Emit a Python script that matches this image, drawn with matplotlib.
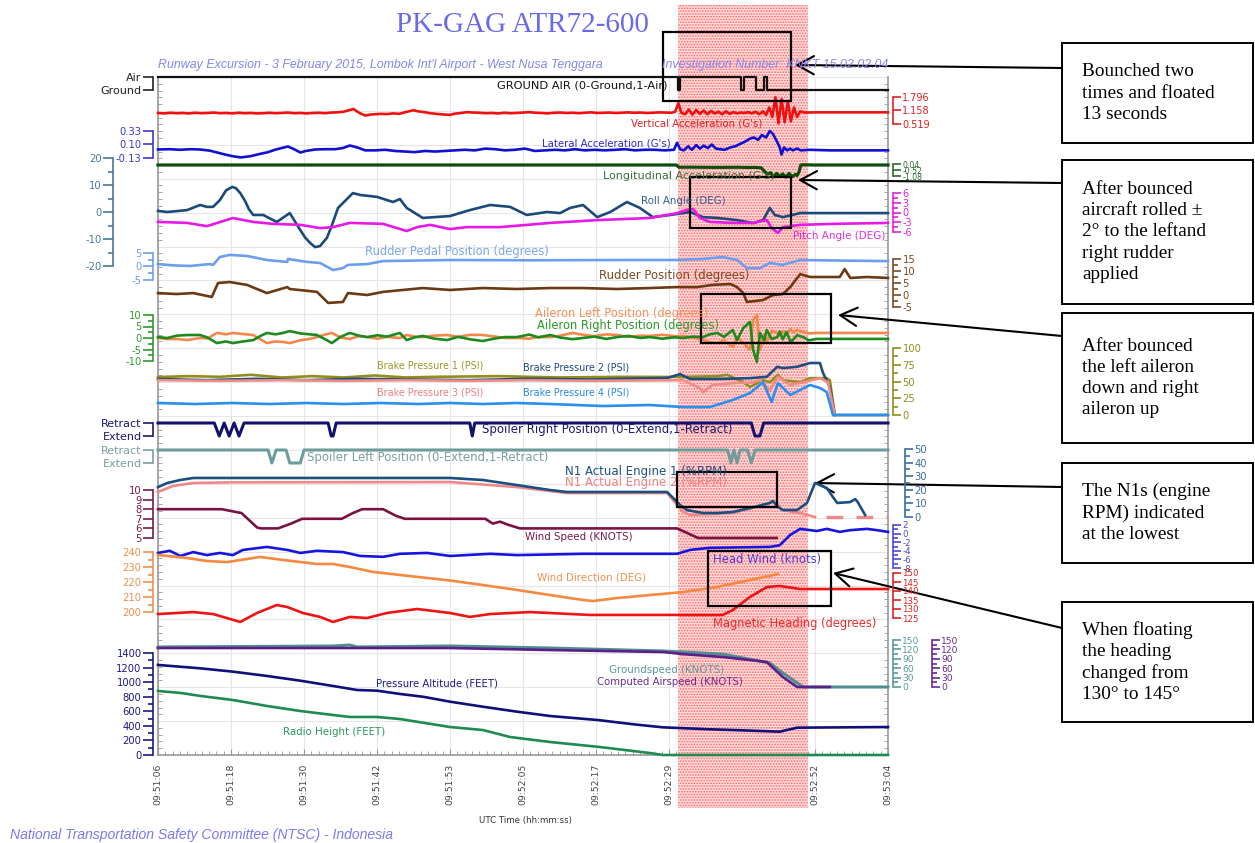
import matplotlib
matplotlib.use("Agg")
import matplotlib.pyplot as plt
from matplotlib.patches import Rectangle

# time axis: seconds after 09:51:06 UTC
time_ticks = [0, 11.8, 23.6, 35.4, 47.2, 59.0, 70.8, 82.6, 94.4, 106.2, 118.0]
time_labels = ["09:51:06", "09:51:18", "09:51:30", "09:51:42", "09:51:53", "09:52:05",
               "09:52:17", "09:52:29", "09:52:41", "09:52:52", "09:53:04"]
highlight = [84.0, 105.1]

# ground / air switch (1 = air)
ga_t = [0, 84.0, 84.4, 94.3, 94.8, 96.7, 98.0, 98.4, 118]
ga_v = [1, 0, 1, 0, 1, 0, 1, 0, 0]

# vertical acceleration (G)
vacc_t = [0, 1, 2, 3, 4, 5, 6, 7, 8, 9, 10, 11, 12, 13, 14, 15, 16, 17, 18, 19,
          20, 21, 22, 23, 24, 25, 26, 27, 28, 29, 30, 31, 31.6, 32.5, 33.5, 34.5, 36, 37, 38, 39,
          40, 41.3, 42, 43, 44, 45, 46, 47.2, 48, 49, 50, 51, 52, 53, 54, 55, 56, 57, 58, 59,
          60, 61, 62, 63, 64, 65, 66, 67, 68, 69, 70, 71, 72, 73, 74, 75, 76, 77, 78, 79,
          80, 81, 82, 83, 83.6, 84.1, 84.6, 85.2, 85.8, 86.4, 87, 87.6, 88.2, 88.8, 89.4, 90, 90.6, 91.2, 91.8, 92.4,
          93, 93.6, 94.2, 94.8, 95.4, 96, 96.6, 97.2, 97.8, 98.3, 98.8, 99.3, 99.8, 100.3, 100.8, 101.3, 101.8, 102.3, 102.8, 103.3,
          103.8, 104.5, 106, 108, 110, 112, 114, 116, 118]
vacc_v = [1.04, 1.02, 1.05, 1.03, 1.04, 1.02, 1.05, 1.03, 1.04, 1.06, 1.03, 1.04, 1.02, 1.05, 1.03, 1.04, 1.02, 1.03, 1.05, 1.03,
          1.04, 1.06, 1.03, 1.04, 1.02, 1.04, 1.05, 1.03, 1.06, 1.07, 1.10, 1.18, 1.23, 1.05, 0.92, 0.97, 1.00, 0.99, 1.02, 1.00,
          1.08, 1.17, 1.12, 1.08, 1.03, 1.00, 0.97, 0.95, 1.01, 1.04, 1.08, 1.06, 1.05, 1.03, 1.04, 1.02, 1.05, 1.03, 1.04, 1.06,
          1.08, 1.05, 1.04, 1.02, 1.05, 1.06, 1.04, 1.05, 1.03, 1.05, 1.07, 1.04, 1.05, 1.06, 1.04, 1.05, 1.07, 1.05, 1.06, 1.04,
          1.05, 1.07, 1.06, 1.05, 1.10, 1.50, 1.05, 0.98, 1.20, 0.96, 1.18, 1.00, 1.16, 0.98, 1.14, 1.02, 1.10, 0.98, 1.12, 1.00,
          1.08, 1.02, 1.06, 1.04, 1.08, 1.02, 1.10, 0.98, 1.12, 0.95, 1.30, 0.85, 1.78, 0.55, 1.70, 0.60, 1.60, 0.65, 1.30, 0.85,
          1.12, 1.06, 1.07, 1.07, 1.07, 1.07, 1.07, 1.07, 1.07]

# lateral acceleration (G)
lat_t = [0, 1.9, 3.6, 5.2, 6.8, 8.4, 9.7, 10.8, 12.1, 13.4, 14.9, 16.5, 17.8, 18.9, 20.0, 21.0, 22.0, 23.0, 23.9, 25.4,
         27.0, 28.6, 29.9, 31.0, 32.2, 33.5, 35.1, 36.7, 38.3, 39.9, 41.5, 43.2, 44.8, 46.4, 48.0, 49.6, 51.2, 52.9, 54.5, 56.1,
         57.7, 59.3, 60.9, 62.6, 64.2, 65.8, 67.4, 69.0, 70.6, 72.2, 73.9, 75.5, 77.1, 78.7, 80.3, 81.9, 83.4, 83.9, 84.4, 85.0,
         85.7, 86.3, 87.0, 87.6, 88.2, 88.9, 89.5, 90.2, 90.8, 91.6, 92.5, 93.3, 94.1, 94.9, 95.7, 96.3, 97.0, 97.6, 98.3, 98.9,
         99.4, 100.0, 100.5, 100.8, 101.2, 101.7, 102.2, 102.6, 103.3, 103.9, 105.4, 108.6, 111.9, 115.1, 118]
lat_v = [0.015, 0.02, 0.01, 0.02, 0.015, -0.005, -0.04, -0.07, -0.10, -0.12, -0.10, -0.06, -0.03, 0.01, 0.04, 0.066, 0.02, -0.036, -0.01, 0.015,
         0.02, 0.02, 0.04, 0.083, 0.05, 0.0, 0.0, 0.01, -0.01, -0.02, -0.03, -0.01, -0.02, -0.01, 0.0, 0.01, 0.0, 0.03, 0.02, 0.0,
         0.01, 0.03, -0.01, 0.0, 0.01, 0.0, 0.02, 0.0, 0.01, 0.0, 0.01, 0.02, 0.0, 0.01, 0.01, 0.0, 0.01, 0.13, 0.02, 0.0,
         0.07, 0.01, 0.09, 0.03, 0.08, 0.04, 0.10, 0.03, 0.02, 0.01, 0.05, 0.07, 0.11, 0.15, 0.20, 0.22, 0.18, 0.26, 0.22, 0.33,
         0.28, 0.16, 0.05, -0.07, 0.05, 0.0, 0.03, 0.0, 0.03, 0.0, 0.01, 0.0, 0.0, 0.0, 0.0]

# longitudinal acceleration (G)
lon_t = [0, 20, 40, 60, 83.8, 84.2, 86, 90, 94, 95.5, 96.5, 97.5, 98.0, 98.5, 99.0, 99.5, 100, 100.5, 101, 101.5,
         102, 102.5, 103, 103.3, 103.6, 103.9, 104.5, 106, 118]
lon_v = [-0.05, -0.05, -0.05, -0.05, -0.05, -0.25, -0.24, -0.26, -0.25, -0.27, -0.26, -0.30, -0.60, -0.85, -0.75, -1.10, -0.80, -1.05, -0.85, -1.15,
         -0.80, -1.10, -0.90, -1.00, -0.70, -0.05, -0.03, -0.05, -0.05]

# roll angle (deg)
roll_t = [0, 1.5, 4.7, 6.8, 7.9, 8.9, 10.0, 11.0, 12.0, 12.6, 13.3, 14.1, 14.7, 15.4, 17.0, 19.2, 21.3, 23.0, 23.8, 24.6,
          25.4, 26.2, 27.3, 28.1, 29.1, 31.5, 32.7, 35.4, 38.0, 39.1, 40.2, 42.8, 47.2, 50.4, 53.7, 56.9, 59.6, 62.9, 65.0, 66.6,
          68.7, 71.0, 73.1, 75.8, 77.9, 80.0, 82.8, 86.0, 88.1, 90.4, 93.6, 96.2, 97.8, 98.9, 99.7, 101.0, 103.8, 106.5, 111.9, 118]
roll_v = [0.4, 0.0, 0.7, 2.6, 1.9, 1.9, 4.4, 8.0, 9.3, 8.8, 7.0, 4.0, 1.0, -1.1, -1.1, -3.7, -0.4, -6.7, -9.5, -11.5,
          -13.0, -12.6, -9.6, -5.0, 1.5, 7.0, 6.3, 5.6, 3.7, 4.8, 1.5, -2.2, -1.5, 0.7, 2.6, 1.9, -1.1, 0.0, -0.4, 1.5,
          2.6, -1.9, 0.0, 3.7, 1.5, -1.9, -1.1, 0.0, -1.9, -2.2, -3.0, -4.1, -3.0, 1.5, -1.1, -1.9, -0.4, -0.4, -0.4, -0.4]

# pitch angle (deg)
pitch_t = [0, 4.7, 7.9, 12.1, 15.4, 18.6, 23.0, 26.2, 28.3, 31.0, 36.4, 40.2, 41.9, 44.0, 47.2, 49.9, 55.3, 63.4, 71.4, 79.5,
           83.9, 85.5, 86.5, 87.6, 89.2, 92.9, 96.2, 98.4, 99.2, 100.2, 101.0, 103.8, 109.1, 118]
pitch_v = [-2.9, -3.2, -4.2, -1.7, -2.9, -3.5, -3.8, -4.8, -4.5, -3.2, -3.5, -5.7, -4.5, -3.8, -5.1, -4.5, -4.5, -3.2, -2.3, -1.7,
           -0.2, 0.8, 1.1, -1.7, -2.9, -3.2, -3.2, -2.3, -4.8, -6.3, -4.5, -3.8, -3.5, -3.2]

# rudder pedal position (deg)
pedal_t = [0, 2.5, 5.2, 8.4, 8.9, 10.0, 11.6, 14.4, 17.6, 20.9, 21.0, 24.1, 26.2, 28.3, 29.9, 30.7, 33.8, 36.4, 47.2, 60,
           75, 83.9, 88.1, 91.3, 93.6, 95.2, 97.3, 98.9, 101.0, 103.8, 110, 118]
pedal_v = [0.9, 0.4, 0.2, 0.9, 0.6, 3.5, 4.3, 3.9, 2.4, 1.7, 2.8, 1.7, 1.3, -1.3, -0.6, 0.6, 0.9, 2.0, 2.4, 2.3,
           2.4, 2.4, 2.8, 3.5, 2.4, -0.6, -0.6, 1.3, 0.6, 2.4, 2.2, 2.0]

# rudder position (deg)
rud_t = [0, 3, 5.7, 8.7, 9.7, 11.6, 14.4, 17.6, 20.9, 21.3, 25.7, 27.5, 29.9, 30.7, 33.8, 36.4, 42.8, 47.2, 52.5, 58.0,
         63.4, 68.7, 74.2, 79.5, 83.9, 87.1, 89.7, 92.5, 93.6, 94.6, 95.2, 96.5, 97.8, 99.4, 101.0, 102.2, 103.8, 105.4, 109.1, 110.2,
         111.0, 111.9, 114.6, 118]
rud_v = [0.8, 0.4, 0.8, -0.8, 5.0, 5.4, 4.2, 0.8, 3.3, 2.5, 1.3, -3.3, -2.9, 0.8, 0.0, 1.3, 2.9, 2.1, 2.9, 2.5,
         2.9, 2.9, 2.5, 2.9, 3.3, 3.3, 4.2, 4.6, 3.3, 0.8, -2.9, -2.5, -2.1, 0.0, 0.4, 3.3, 8.7, 7.5, 7.5, 7.5,
         10.8, 7.1, 7.5, 7.1]

# aileron positions (deg)
ail_t = [0, 1.5, 3, 4.7, 6.8, 8, 9.5, 11, 12.1, 13.5, 15.4, 16.5, 17.6, 19, 20.2, 21.3, 23, 24.5, 25.7, 27,
         28.1, 29.5, 31.0, 32.5, 33.8, 35.5, 37, 39.1, 40.2, 41.5, 42.8, 44.5, 46.7, 48.5, 50.5, 52.5, 54.5, 56, 58.0, 60,
         61.5, 63.4, 65, 67, 68.7, 70.5, 72.5, 74.2, 76, 78, 79.5, 81.5, 83.5, 84.9, 86.5, 88.1, 89.2, 90.4, 91.5, 92.9,
         93.6, 94.6, 95.7, 96.2, 96.8, 97.3, 98.0, 98.4, 99.2, 100.1, 100.5, 101.0, 101.6, 102.2, 102.6, 103.3, 104.3, 105.2, 106.5, 108,
         110, 112, 114, 116, 118]
ail_right = [0.4, 0.0, 1.0, 1.3, 1.3, 0.2, -2.2, -1.5, -2.2, -1.6, -0.9, 0.8, 2.2, 1.6, 2.2, 3.0, 2.0, 1.6, 1.3, -0.5,
             -2.2, 0.5, 2.2, 1.0, 0.4, 1.2, 0.6, 2.2, -0.9, 0.3, 0.9, -0.2, -0.9, 0.5, -0.6, -1.3, -0.2, 0.4, 0.4, 1.5,
             0.3, 1.3, 0.2, -0.5, 0.0, 0.6, -0.4, 0.4, 0.9, 0.0, 0.4, -0.3, 0.3, 0.0, 0.6, 0.4, 1.6, 2.2, 0.5, 3.5,
             -0.9, 4.3, 7.0, -5.2, -10.4, 2.2, -1.0, 3.5, -0.5, 0.4, 2.8, -0.6, 2.6, -1.5, -0.9, 1.2, 0.4, -1.0, -0.4, -0.4,
             -0.4, -0.4, -0.4, -0.4, -0.4]
ail_left = [0.0, -0.5, -0.4, -0.9, 0.0, -0.2, 2.2, 1.6, 2.2, 1.8, 1.3, -0.5, -2.2, -1.5, -1.7, -2.2, -1.0, -0.4, 0.4, 1.5,
            2.2, 0.2, -0.4, 0.8, 0.4, -0.3, 0.5, 0.0, 1.3, 0.6, 0.4, 1.0, 1.3, 0.5, 1.4, 1.3, 0.6, 0.0, 0.0, -0.3,
            0.4, 0.4, 1.0, 2.2, 1.4, 0.8, 1.6, 1.3, 0.5, 1.0, 0.9, 1.4, 0.8, 0.9, 0.2, -0.9, -1.8, -2.2, -1.0, -3.9,
            0.4, -2.0, -5.2, 7.8, 10.0, -5.2, 1.5, -1.7, 3.2, 2.2, 0.8, 3.0, 1.5, 3.8, 2.5, 3.5, 2.6, 2.0, 2.2, 2.2,
            2.2, 2.2, 2.2, 2.2, 2.2]

# brake pressures (PSI)
bp1_t = [0, 5, 10, 15, 20, 25, 30, 35, 40, 45, 55, 65, 75, 84.9, 90.4, 92.0, 94.6, 95.7, 97.8, 98.9,
         100.2, 101.0, 103.8, 105.4, 108.1, 108.6, 109.4, 118]
bp1_v = [56.7, 58, 57, 60, 56, 58, 56, 59, 56, 57, 58, 56, 57, 56.7, 58, 60, 49, 42, 52, 49,
         60, 52, 49, 55, 55, 52, 0, 0]
bp2_t = [0, 8, 16, 24, 32, 40, 50, 60, 70, 82.3, 84.4, 86.0, 90.4, 95.7, 98.4, 100.1, 101.0, 103.3, 105.4, 107.0,
         107.5, 108.6, 109.4]
bp2_v = [53.7, 52, 54, 52, 54, 53, 52, 54, 53, 55.2, 61, 53.7, 53.7, 55, 57, 72, 70, 72, 77.6, 77.6,
         62.7, 41.8, 0]
bp3_t = [0, 10, 20, 30, 40, 50, 60, 70, 84.9, 87.6, 88.1, 89.7, 93.6, 95.7, 97.3, 98.9, 100.2, 102.2, 104.3, 107.0,
         108.3, 109.4]
bp3_v = [52, 51, 52, 51, 52, 51, 52, 51, 52, 40, 34, 45, 48, 48, 52, 37, 57, 45, 49, 55,
         49, 0]
bp4_t = [0, 6, 12, 18, 24, 30, 36, 42, 47.2, 52.5, 58.0, 63.4, 71.9, 79.5, 84.9, 89.2, 92.9, 95.7, 97.8, 99.2,
         100.2, 102.2, 105.4, 107.0, 108.1, 109.1, 118]
bp4_v = [17.9, 16.4, 17.9, 16.4, 17.9, 16.4, 17.9, 16.4, 17.9, 16.4, 17.9, 16.4, 13.4, 14.9, 11.9, 11.9, 22.4, 32.8, 49, 19.4,
         47.8, 29.9, 44.8, 40.3, 34.3, 0, 0]

# spoilers (1 = retract, 0 = extend)
spr_t = [0, 9.1, 9.9, 10.7, 11.5, 12.3, 13.1, 13.9, 27.5, 28.0, 28.3, 28.8, 50.4, 50.8, 51.2, 95.9, 96.5, 97.3, 97.9, 118]
spr_v = [1, 1, 0, 1, 0, 1, 0, 1, 1, 0, 0, 1, 1, 0, 1, 1, 0, 0, 1, 1]
spl_t = [0, 17.8, 18.4, 19.1, 20.7, 21.3, 23.0, 23.6, 92.1, 92.6, 93.1, 93.6, 94.1, 95.3, 95.9, 96.5, 118]
spl_v = [1, 1, 0, 1, 1, 0, 0, 1, 1, 0, 1, 0, 1, 1, 0, 1, 1]

# N1 (%RPM)
n1a_t = [0, 1.5, 3.6, 5.7, 12.1, 47.2, 52.5, 58.0, 63.4, 66.1, 82.3, 84.4, 85.5, 88.1, 90.4, 92.9, 95.7, 98.9, 99.4, 100.2,
         101.0, 103.3, 104.9, 106.2, 108.1, 109.1, 109.8, 111.9, 112.7, 113.1, 114.3]
n1a_v = [22, 25, 27.2, 28.7, 28.7, 28.7, 27.2, 23.5, 19.8, 18.4, 18.4, 8.8, 5.1, 2.9, 2.9, 3.7, 6.6, 10.3, 11.8, 7.4,
         5.1, 5.1, 10.3, 25, 21.3, 14.7, 10.3, 11, 13.2, 11, 1.5]
n1b_t = [0, 2.4, 5.7, 12.1, 47.2, 58.0, 66.1, 82.3, 84.9, 86.0, 92.9, 96.8, 99.4, 100.2, 101.0, 103.8, 106.2]
n1b_v = [18.4, 22.8, 25, 25.5, 25.7, 22, 17.6, 17.6, 3.7, 1.5, 2.9, 7.4, 11, 8.8, 5.1, 2.9, 0]
n1b_gap_t = [108.0, 118]
n1b_gap_v = [0, 0]

# wind speed (kt), head wind (kt), wind direction (deg), magnetic heading (deg)
ws_t = [0, 10.3, 13.5, 16.0, 16.6, 19.4, 21.5, 23.3, 29.7, 31.5, 33.0, 36.4, 38.5, 39.9, 52.9, 54.1, 55.3, 56.5, 58.5, 83.9,
        87.3, 100.0]
ws_v = [8, 8, 7.6, 6.1, 6, 6, 6.5, 7, 7, 7.6, 8, 8, 7.3, 7, 7, 6.5, 6.7, 6.4, 6.0, 6.0,
        5.0, 5.0]
hw_t = [0, 1.9, 3.6, 5.7, 7.9, 10.0, 12.1, 13.7, 17.6, 20.9, 23.0, 25.7, 29.9, 32.7, 36.4, 39.1, 43.5, 47.2, 53.7, 58.0,
        68.7, 83.9, 86.0, 89.2, 98.9, 100.5, 102.2, 103.8, 106.5, 108.1, 110.2, 111.9, 114.6, 116.2, 118]
hw_v = [-4.5, -4.0, -5.2, -4.3, -5.0, -4.5, -5.0, -3.8, -3.1, -3.8, -4.5, -4.0, -4.3, -5.2, -5.4, -4.7, -4.5, -5.2, -4.7, -5.0,
        -4.7, -4.7, -3.8, -3.3, -3.1, -2.7, -0.3, 1.1, 0.6, 1.1, 0.4, 0.8, 1.1, 0.8, 0.4]
wd_t = [0, 4.7, 7.9, 11.2, 16.5, 20.2, 25.7, 28.3, 31.0, 34.8, 39.1, 47.2, 52.5, 58.0, 63.4, 68.7, 70.3, 74.2, 79.5, 84.9,
        90.4, 95.7, 100.2]
wd_v = [238, 236, 234, 233.3, 236.7, 234.7, 232, 232, 230, 226.7, 224.7, 221, 218, 214.7, 211.3, 208, 207.3, 209.3, 211.3, 213.3,
        216.7, 221.3, 225.3]
hdg_t = [0, 5.7, 8.9, 13.3, 16.0, 19.2, 20.9, 23.4, 26.2, 28.3, 31.0, 33.8, 37.0, 41.9, 47.2, 50.4, 53.7, 60.1, 69.8, 84.9,
         91.3, 92.9, 95.7, 98.4, 100.5, 103.8, 118]
hdg_v = [127.2, 128.3, 127.2, 122.8, 127.8, 132.2, 131.1, 127.8, 125.6, 122.8, 125.6, 125.0, 127.8, 130.0, 127.8, 125.6, 127.2, 128.3, 126.7, 126.7,
         126.7, 129.4, 136.7, 142.2, 142.8, 141.1, 141.1]

# groundspeed / computed airspeed (kt)
gs_t = [0, 28.3, 31.0, 32.2, 47.2, 63.4, 81.6, 84.9, 91.3, 98.9, 101.0, 103.8, 104.3, 118]
gs_v = [127.7, 130.8, 134, 127.7, 131, 124.4, 115, 111.7, 105, 76.6, 44.7, 6.4, 0, 0]
cas_t = [0, 47.2, 63.4, 81.6, 84.9, 91.3, 95.7, 98.4, 101.0, 103.3, 108.6]
cas_v = [124.4, 124.4, 118, 111.7, 105, 95.7, 86, 79.7, 31.9, 0, 0]

# pressure altitude / radio height (ft)
alt_t = [0, 6.8, 12.1, 17.6, 23.0, 28.3, 32.2, 35.4, 39.1, 42.8, 47.2, 52.5, 58.0, 63.4, 71.1, 76.9, 81.6, 89.2, 92.9, 100.5,
         103.3, 118]
alt_v = [1236, 1190, 1144, 1085, 1020, 947, 892, 883, 838, 800, 732, 663, 595, 535, 480, 421, 380, 353, 343, 320,
         375, 384]
rh_t = [0, 3.7, 6.9, 12.1, 17.6, 23.0, 28.3, 31.0, 35.4, 39.1, 47.2, 52.5, 56.9, 63.4, 71.4, 79.5, 81.6, 118]
rh_v = [879, 851, 810, 755, 673, 604, 549, 522, 522, 494, 384, 343, 247, 178, 110, 27, 0, 0]

# ------------------------------------------------------------------
W, H = 1255, 843
L, R, T, B = 158, 888, 77, 755   # plot area in pixels
PT = 0.72                        # points per pixel at dpi 100

plt.rcParams["hatch.linewidth"] = 0.8
fig = plt.figure(figsize=(W / 100, H / 100), dpi=100)
rect = [L / W, 1 - B / H, (R - L) / W, (B - T) / H]


def ptext(x, y, s, **kw):
    kw.setdefault("ha", "center")
    kw.setdefault("va", "center")
    return fig.text(x / W, 1 - y / H, s, **kw)


ax0 = fig.add_axes(rect)
ax0.set_xlim(0, 118)
ax0.set_ylim(0, 20)
ax0.set_xticks(time_ticks)
ax0.set_xticklabels(time_labels, rotation=90, fontsize=6.7, color="#444444")
ax0.set_xticks([i * 1.18 for i in range(101)], minor=True)
ax0.set_yticks(range(21))
ax0.set_yticks([i * 0.2 for i in range(101)], minor=True)
ax0.tick_params(axis="y", which="both", left=True, right=True, labelleft=False,
                direction="in", color="#999999")
ax0.tick_params(axis="y", which="major", length=0)
ax0.tick_params(axis="y", which="minor", length=3)
ax0.tick_params(axis="x", which="both", direction="in", color="#999999", pad=6)
ax0.tick_params(axis="x", which="major", length=4)
ax0.tick_params(axis="x", which="minor", length=3)
ax0.grid(True, which="major", color="#e6e6e6", lw=0.8)
ax0.set_axisbelow(True)
ax0.spines["top"].set_visible(False)
for s in ("left", "right", "bottom"):
    ax0.spines[s].set_color("#999999")
    ax0.spines[s].set_linewidth(1.2)

ax0.axvspan(highlight[0], highlight[1], ymin=(B - 808) / (B - T), ymax=(B - 5) / (B - T),
            facecolor="#ffd9d9", edgecolor="#ff6b6b", hatch="......", lw=0,
            clip_on=False, zorder=0.8)


def band(p_hi, v_hi, p_lo, v_lo, side=None, offset=5, ticks=None, labels=None,
         color="k", minor=None, labelsize=7.2, ticklen=10):
    ax = fig.add_axes(rect, facecolor="none")
    ax.set_xlim(0, 118)
    s = (v_hi - v_lo) / (p_lo - p_hi)
    ax.set_ylim(v_lo - (B - p_lo) * s, v_hi + (p_hi - T) * s)
    for sp in ax.spines.values():
        sp.set_visible(False)
    ax.tick_params(axis="x", which="both", bottom=False, labelbottom=False)
    if side is None:
        ax.tick_params(axis="y", which="both", left=False, labelleft=False)
        return ax
    sp = ax.spines[side]
    sp.set_visible(True)
    sp.set_position(("outward", offset * PT))
    sp.set_bounds(min(ticks), max(ticks))
    sp.set_color(color)
    sp.set_linewidth(1.2)
    ax.yaxis.set_ticks_position(side)
    ax.set_yticks(ticks)
    ax.set_yticklabels(labels if labels else [str(t) for t in ticks])
    if minor:
        ax.set_yticks(minor, minor=True)
    ax.tick_params(axis="y", which="major", direction="out", length=ticklen * PT, width=1.2,
                   color=color, labelcolor=color, labelsize=labelsize, pad=1)
    ax.tick_params(axis="y", which="minor", direction="out", length=5 * PT, width=1.2, color=color)
    return ax


LW = 1.9

# ground / air
a = band(77, 1, 90, 0, "left", 5, [0, 1], ["Ground", "Air"], "#222222", labelsize=8)
a.plot(ga_t, ga_v, drawstyle="steps-post", color="#111111", lw=1.6, clip_on=False)
ptext(582, 85, "GROUND AIR (0-Ground,1-Air)", fontsize=8.2, color="#111111")

# vertical acceleration
a = band(97, 1.796, 124, 0.519, "right", 5, [0.519, 1.158, 1.796], ["0.519", "1.158", "1.796"],
         "#e02020", ticklen=8, labelsize=7)
a.plot(vacc_t, vacc_v, color="#f01010", lw=LW, clip_on=False)
ptext(697, 123, "Vertical Acceleration (G's)", fontsize=7.3, color="#e02020")

# lateral acceleration
a = band(131, 0.33, 158, -0.13, "left", 5, [-0.13, 0.10, 0.33], ["-0.13", "0.10", "0.33"], "#3a3ad0")
a.plot(lat_t, lat_v, color="#1010d0", lw=LW, clip_on=False)
ptext(606, 143, "Lateral Acceleration (G's)", fontsize=7.3, color="#2a2acc")

# longitudinal acceleration
a = band(164, 0.04, 176.5, -1.08, "right", 5, [-1.08, -0.52, 0.04], ["-1.08", "-0.52", "0.04"],
         "#2d6b2d", ticklen=8, labelsize=5.6)
a.plot(lon_t, lon_v, color="#0b4d0b", lw=2.3, clip_on=False)
ptext(689, 176, "Longitudinal Acceleration (G's)", fontsize=8, color="#3a6e3a")

# roll
a = band(158, 20, 266, -20, "left", 45, [-20, -10, 0, 10, 20], None, "#4a76a0",
         minor=[-15, -5, 5, 15])
a.plot(roll_t, roll_v, color="#1b4a7a", lw=LW, clip_on=False)
ptext(683, 201, "Roll Angle (DEG)", fontsize=7.4, color="#2f5f8f")

# pitch
a = band(193, 6, 232, -6, "right", 5, [-6, -3, 0, 3, 6], None, "#e020e0", ticklen=8,
         minor=[-4.5, -1.5, 1.5, 4.5], labelsize=7)
a.plot(pitch_t, pitch_v, color="#e619e6", lw=LW, clip_on=False)
ptext(839, 236, "Pitch Angle (DEG)", fontsize=7.5, color="#e030e0")

# rudder pedal
a = band(253, 5, 280, -5, "left", 5, [-5, 0, 5], None, "#6d9eeb", minor=[-2.5, 2.5])
a.plot(pedal_t, pedal_v, color="#6d9eeb", lw=LW, clip_on=False)
ptext(457, 252, "Rudder Pedal Position (degrees)", fontsize=8.3, color="#7aa6ee")

# rudder
a = band(259, 15, 307, -5, "right", 5, [-5, 0, 5, 10, 15], None, "#7a4a22", ticklen=8,
         minor=[-2.5, 2.5, 7.5, 12.5])
a.plot(rud_t, rud_v, color="#6b3a12", lw=LW, clip_on=False)
ptext(674, 275, "Rudder Position (degrees)", fontsize=8.4, color="#7a4a22")

# ailerons
a = band(315, 10, 361, -10, "left", 5, [-10, -5, 0, 5, 10], None, "#2e9a2e",
         minor=[-7.5, -2.5, 2.5, 7.5])
a.plot(ail_t, ail_left, color="#f5874a", lw=LW, clip_on=False)
a.plot(ail_t, ail_right, color="#1c8a1c", lw=LW, clip_on=False)
ptext(622, 313, "Aileron Left Position (degrees)", fontsize=8.3, color="#f4925a")
ptext(628, 325, "Aileron Right Position (degrees)", fontsize=8.3, color="#2a9a2a")

# brake pressures
a = band(348, 100, 415, 0, "right", 5, [0, 25, 50, 75, 100], None, "#8f8f1f", ticklen=8,
         minor=[12.5, 37.5, 62.5, 87.5])
a.plot(bp1_t, bp1_v, color="#8f8f1f", lw=LW, clip_on=False)
a.plot(bp2_t, bp2_v, color="#1f4f80", lw=LW, clip_on=False)
a.plot(bp3_t, bp3_v, color="#f28b82", lw=LW, clip_on=False)
a.plot(bp4_t, bp4_v, color="#2b8ff0", lw=LW, clip_on=False)
ptext(430, 366, "Brake Pressure 1 (PSI)", fontsize=6.9, color="#9a9a2a")
ptext(576, 368, "Brake Pressure 2 (PSI)", fontsize=6.9, color="#1d4b7a")
ptext(430, 392, "Brake Pressure 3 (PSI)", fontsize=6.9, color="#f08080")
ptext(576, 392, "Brake Pressure 4 (PSI)", fontsize=6.9, color="#2a8ae8")

# spoilers
a = band(423, 1, 436, 0, "left", 5, [0, 1], ["Extend", "Retract"], "#1a1a70", labelsize=8)
a.plot(spr_t, spr_v, color="#12126e", lw=2.2, clip_on=False)
ptext(607, 430, "Spoiler Right Position (0-Extend,1-Retract)", fontsize=8.5, color="#1a1a70")
a = band(450, 1, 463, 0, "left", 5, [0, 1], ["Extend", "Retract"], "#7aa0a0", labelsize=8)
a.plot(spl_t, spl_v, color="#6e9c9c", lw=2.2, clip_on=False)
ptext(428, 457, "Spoiler Left Position (0-Extend,1-Retract)", fontsize=8.5, color="#7aa0a0")

# N1
a = band(449, 50, 517, 0, "right", 17, [0, 10, 20, 30, 40, 50], None, "#3a6e9e", ticklen=8,
         minor=[5, 15, 25, 35, 45])
a.plot(n1b_t, n1b_v, color="#f08888", lw=LW, clip_on=False)
a.plot(n1b_gap_t, n1b_gap_v, color="#f08888", lw=2.4, ls=(0, (5, 4)), clip_on=False)
a.plot(n1a_t, n1a_v, color="#1b4f80", lw=LW, clip_on=False)
ptext(646, 471, "N1 Actual Engine 1 (%RPM)", fontsize=8.5, color="#1f4f80")
ptext(646, 482, "N1 Actual Engine 2 (%RPM)", fontsize=8.5, color="#f08080")

# wind speed
a = band(490, 10, 538, 5, "left", 5, [5, 6, 7, 8, 9, 10], None, "#7a1a4a")
a.plot(ws_t, ws_v, color="#7a1244", lw=LW, clip_on=False)
ptext(579, 537, "Wind Speed (KNOTS)", fontsize=7.4, color="#7a1a4a")

# head wind
a = band(525, 2, 568, -8, "right", 5, [-8, -6, -4, -2, 0, 2], None, "#4a4ad8", ticklen=8,
         minor=[-7, -5, -3, -1, 1], labelsize=6.2)
a.plot(hw_t, hw_v, color="#1515e0", lw=LW, clip_on=False)
ptext(767, 559, "Head Wind (knots)", fontsize=8.4, color="#4b3bd8")

# wind direction
a = band(552, 240, 612, 200, "left", 5, [200, 210, 220, 230, 240], None, "#f09050",
         minor=[205, 215, 225, 235])
a.plot(wd_t, wd_v, color="#f5893f", lw=LW, clip_on=False)
ptext(592, 578, "Wind Direction (DEG)", fontsize=7.4, color="#f09050")

# magnetic heading
a = band(573, 150, 618, 125, "right", 5, [125, 130, 135, 140, 145, 150], None, "#e02020", ticklen=8,
         labelsize=6.2)
a.plot(hdg_t, hdg_v, color="#ee1414", lw=LW, clip_on=False)
ptext(795, 624, "Magnetic Heading (degrees)", fontsize=8.3, color="#ee2a2a")

# groundspeed / airspeed
a = band(640, 150, 687, 0, "right", 5, [0, 30, 60, 90, 120, 150], None, "#5a9a9a", ticklen=8,
         minor=[15, 45, 75, 105, 135], labelsize=6.6)
a.plot(gs_t, gs_v, color="#4f8f8f", lw=2.2, clip_on=False)
a2 = band(640, 150, 687, 0, "right", 44, [0, 30, 60, 90, 120, 150], None, "#6a2a90", ticklen=8,
          minor=[15, 45, 75, 105, 135], labelsize=6.6)
a2.plot(cas_t, cas_v, color="#5b1e8b", lw=LW, clip_on=False)
ptext(667, 670, "Groundspeed (KNOTS)", fontsize=7.4, color="#5a9a9a")
ptext(670, 682, "Computed Airspeed (KNOTS)", fontsize=7.3, color="#6a2a90")

# altitude
a = band(653, 1400, 755, 0, "left", 5, [0, 200, 400, 600, 800, 1000, 1200, 1400], None, "#1a1a80",
         minor=[100, 300, 500, 700, 900, 1100, 1300])
a.plot(rh_t, rh_v, color="#1e8c50", lw=LW, clip_on=False)
a.plot(alt_t, alt_v, color="#10107a", lw=LW, clip_on=False)
ptext(437, 683, "Pressure Altitude (FEET)", fontsize=7.3, color="#1a1a80")
ptext(334, 732, "Radio Height (FEET)", fontsize=7.4, color="#2a9a5a")

# titles and footer
ptext(522, 25, "PK-GAG ATR72-600", fontsize=21, color="#6b6bea", family="Liberation Serif")
ptext(158, 65, "Runway Excursion - 3 February 2015, Lombok Int'l Airport - West Nusa Tenggara",
      ha="left", fontsize=8.9, style="italic", color="#8585ee", family="Liberation Sans")
ptext(888, 65, "Investigation Number: KNKT 15.02.02.04", ha="right", fontsize=8.9,
      style="italic", color="#8585ee", family="Liberation Sans")
ptext(525, 821, "UTC Time (hh:mm:ss)", fontsize=6.2, color="#333333")
ptext(10, 835, "National Transportation Safety Committee (NTSC) - Indonesia", ha="left",
      fontsize=10.1, style="italic", color="#7a7af0", family="Liberation Sans")

# highlight boxes on the traces
for x0, y0, x1, y1 in [(663, 32, 791, 101), (690, 177, 791, 228), (701, 294, 831, 343),
                       (677, 472, 777, 507), (708, 551, 831, 606)]:
    fig.add_artist(Rectangle((x0 / W, 1 - y1 / H), (x1 - x0) / W, (y1 - y0) / H,
                             transform=fig.transFigure, fill=False, ec="black", lw=1.6))

# annotation boxes with arrows
notes = [
    ((43, 143), "Bounched two\ntimes and floated\n13 seconds", (795, 65), (1062, 68)),
    ((160, 304), "After bounced\naircraft rolled \u00b1\n2\u00b0 to the leftand\nright rudder\napplied",
     (798, 180), (1062, 183)),
    ((313, 443), "After bounced\nthe left aileron\ndown and right\naileron up", (838, 315), (1062, 336)),
    ((463, 563), "The N1s (engine\nRPM) indicated\nat the lowest", (815, 483), (1062, 487)),
    ((602, 722), "When floating\nthe heading\nchanged from\n130\u00b0 to 145\u00b0", (833, 573), (1062, 628)),
]
for (yt, yb), txt, head, tail in notes:
    fig.add_artist(Rectangle((1062 / W, 1 - yb / H), (1253 - 1062) / W, (yb - yt) / H,
                             transform=fig.transFigure, fill=False, ec="black", lw=1.4))
    ptext(1082, (yt + yb) / 2, txt, ha="left", fontsize=13.9, family="Liberation Serif",
          linespacing=1.32, color="black")
    ax0.annotate("", xy=(head[0], H - head[1]), xytext=(tail[0], H - tail[1]),
                 xycoords="figure pixels", textcoords="figure pixels", annotation_clip=False,
                 arrowprops=dict(arrowstyle="->,head_length=0.55,head_width=0.3",
                                 lw=1.5, color="black", mutation_scale=22, shrinkA=0, shrinkB=0))

fig.savefig("out.png", dpi=100)
